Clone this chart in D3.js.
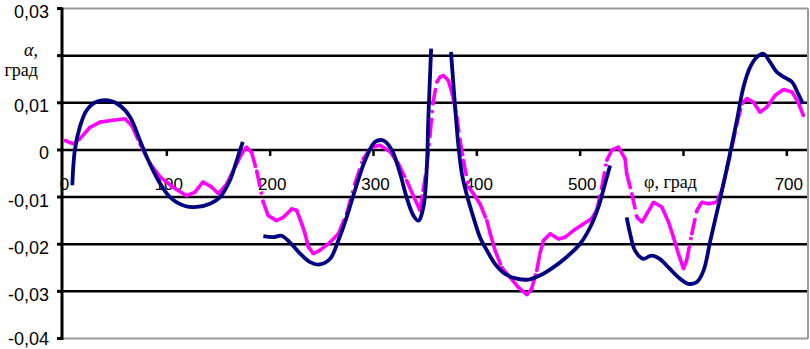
<!DOCTYPE html>
<html><head><meta charset="utf-8">
<script src="https://cdn.jsdelivr.net/npm/d3@7"></script>
<style>body{margin:0;background:#fff}svg{display:block}</style>
</head><body><svg id="c" width="810" height="349"></svg>
<script>
// Blue series (null = gap)
const phiBlue = [8.5,11,16,22.4,32,43.4,54.7,64.4,74,82,91.8,103,117.6,129,141.8,151.5,161,167.7,173.5,184,
193.4,203,211,219,229,238.6,248,258,266,274,282,291.9,301.5,309.6,317.7,325.7,332,338.6,343.5,348.3,351.6,353,354.8,355.8,365,
375,379,382,385.5,390,396.7,403,409.7,417.7,427.4,438.7,450,461.3,474,487,500,509.7,517.7,524,529,537,
545,548.4,553,561,569,577,585.5,595,604.8,613,619.4,626,632,638.7,645,651.7,658,664.6,671,677.4,683.8,690.4,696.8,705,711,715.6];
const valBlue = [-0.0075,0,0.005,0.0084,0.0102,0.0105,0.0094,0.007,0.002,-0.0022,-0.0065,-0.010,-0.0119,-0.0121,-0.0114,-0.010,-0.0065,-0.0022,0.0017,null,
-0.0183,-0.0185,-0.0182,-0.0196,-0.022,-0.0238,-0.0243,-0.0231,-0.0192,-0.0143,-0.0086,-0.0022,0.0017,0.002,0.0,-0.005,-0.010,-0.0139,-0.015,-0.0121,-0.0036,0.0063,0.0162,0.0215,null,
0.0208,0.0091,0.0013,-0.005,-0.0093,-0.0143,-0.0185,-0.0213,-0.0242,-0.0263,-0.0273,-0.0275,-0.0266,-0.0249,-0.0227,-0.0199,-0.0164,-0.0121,-0.0072,-0.0033,null,
-0.0143,-0.0178,-0.0213,-0.0231,-0.0224,-0.0231,-0.0249,-0.027,-0.0284,-0.028,-0.0256,-0.0192,-0.0135,-0.0072,-0.0008,0.0063,0.0133,0.0176,0.0197,0.0204,0.0186,0.0165,0.0155,0.0144,0.0119,0.0098];

// Magenta series
const phiMag = [1.5,9.5,16,25.7,35.3,48,59.5,66,74,83.7,93.4,106,119,127,135,143.5,150,158,166,172.5,177,182,187,
193.4,198,206,212.8,221,225.7,230.6,233.8,237,241.8,248,258,266,274,282,290,298.3,306.4,316,324,332,338.6,
345,348,351.6,354.8,357.4,361.3,364.5,367.7,372.5,377,380.6,383.8,387,392,396.7,403,409.7,413,417.7,424,432,440,448.4,453,458,461,464.5,471,479,485.5,493.5,503,511,516,521,525.8,530.7,537,543.5,
545,550,555,559.8,564.6,571,579,585.5,590.3,595,600,603,608,613,617.8,624,632,637,642,646.8,651.7,656.5,661.4,667.8,674,680.7,688.8,696.8,705,711,716];
const valMag = [0.002,0.0013,0.0024,0.0048,0.0059,0.0063,0.0066,0.0052,0.0013,-0.0029,-0.0057,-0.0079,-0.0097,-0.009,-0.0068,-0.0079,-0.0093,-0.0072,-0.0036,-0.0008,0.0006,-0.0005,-0.0045,
-0.0111,-0.0139,-0.015,-0.0143,-0.0125,-0.0128,-0.0157,-0.0178,-0.0206,-0.022,-0.0213,-0.0196,-0.0178,-0.0135,-0.0072,-0.0019,0.0006,0.001,-0.0004,-0.0029,-0.0065,-0.0097,
-0.0128,-0.0086,-0.0036,0.0034,0.0098,0.0144,0.0155,0.0158,0.0147,0.0112,0.007,0.002,-0.0022,-0.0079,-0.0093,-0.0114,-0.015,-0.0178,-0.0213,-0.0249,-0.027,-0.0291,-0.0307,-0.0295,-0.0256,-0.022,-0.0192,-0.0178,-0.0189,-0.0185,-0.0171,-0.0157,-0.0146,-0.0128,-0.0079,-0.0022,0.0,0.0006,-0.0019,
-0.005,-0.0093,-0.0143,-0.0153,-0.0135,-0.0111,-0.0121,-0.0153,-0.0185,-0.022,-0.0252,-0.0235,-0.0178,-0.0128,-0.0111,-0.0114,-0.0111,-0.0086,-0.004,0.0006,0.0056,0.0098,0.0109,0.0101,0.008,0.0091,0.0116,0.0128,0.0123,0.0101,0.0073];

const yTicks = [0.03,0.02,0.01,0,-0.01,-0.02,-0.03,-0.04];
const yTickLabels = ["0,03","","0,01","0","-0,01","-0,02","-0,03","-0,04"];
const xTicks = [0,100,200,300,400,500,600,700];
const xTickLabels = ["0","100","200","300","400","500","","700"];

const svg = d3.select("#c");
const x = d3.scaleLinear().domain([0,720]).range([63.5,807.5]);
const y = d3.scaleLinear().domain([-0.04,0.03]).range([338.5,8.5]);
const x0 = x(0)-1.5, x1 = 808;

// gridlines
svg.append("g").selectAll("line").data(yTicks).join("line")
  .attr("x1",x0).attr("x2",x1).attr("y1",d=>y(d)).attr("y2",d=>y(d))
  .attr("stroke",d=>(d===0.03||d===-0.04)?"#9a9a9a":"#000")
  .attr("stroke-width",d=>(d===0.03||d===-0.04)?2:2.5);
// right border
svg.append("line").attr("x1",x1).attr("x2",x1).attr("y1",y(0.03)).attr("y2",y(-0.04))
  .attr("stroke","#9a9a9a").attr("stroke-width",2);

// x ticks
svg.append("g").selectAll("line").data(xTicks.slice(1)).join("line")
  .attr("x1",d=>x(d)).attr("x2",d=>x(d)).attr("y1",y(0)).attr("y2",y(0)+6)
  .attr("stroke","#000").attr("stroke-width",2.5);
svg.append("g").selectAll("text").data(xTicks).join("text")
  .attr("x",(d,i)=>x(d)+(i===0?1:2)).attr("y",y(0)+40)
  .attr("text-anchor","middle").attr("font-family","Liberation Sans, Arial, sans-serif")
  .attr("font-size",17).attr("fill","#000").text((d,i)=>xTickLabels[i]);

// y axis
svg.append("line").attr("x1",x0).attr("x2",x0).attr("y1",y(0.03)-1).attr("y2",y(-0.04)+1.5)
  .attr("stroke","#000").attr("stroke-width",3);
svg.append("g").selectAll("line").data(yTicks).join("line")
  .attr("x1",x0-5).attr("x2",x0).attr("y1",d=>y(d)).attr("y2",d=>y(d))
  .attr("stroke","#000").attr("stroke-width",3);
svg.append("g").selectAll("text").data(yTicks).join("text")
  .attr("x",49).attr("y",d=>Math.min(y(d)+9.5,344.5))
  .attr("text-anchor","end").attr("font-family","Liberation Sans, Arial, sans-serif")
  .attr("font-size",18).attr("fill","#000").text((d,i)=>yTickLabels[i]);

// series
const blue = phiBlue.map((p,i)=>({p, v: valBlue[i]}));
const mag = phiMag.map((p,i)=>({p, v: valMag[i]}));
const line = d3.line().defined(d=>d.v!==null).x(d=>x(d.p)).y(d=>y(d.v));
const smooth = d3.line().defined(d=>d.v!==null).x(d=>x(d.p)).y(d=>y(d.v)).curve(d3.curveCatmullRom.alpha(0.5));

// magenta: dash pattern restarts at every segment (long dash - dot)
const magSegs = d3.pairs(mag);
svg.append("g").selectAll("path").data(magSegs).join("path")
  .attr("d",d=>line(d)).attr("fill","none").attr("stroke","#ff00ff")
  .attr("stroke-width",3.6).attr("stroke-dasharray","16,5,3,5");
svg.append("g").selectAll("circle").data(mag).join("circle")
  .attr("cx",d=>x(d.p)).attr("cy",d=>y(d.v)).attr("r",1.8).attr("fill","#ff00ff");

svg.append("path").datum(blue).attr("d",smooth).attr("fill","none")
  .attr("stroke","#000080").attr("stroke-width",3.8).attr("stroke-linejoin","round");

// axis titles
const serif = "Liberation Serif, Times New Roman, serif";
svg.append("text").attr("x",38).attr("y",56).attr("text-anchor","end")
  .attr("font-family",serif).attr("font-size",18).attr("fill","#000")
  .html('<tspan font-style="italic">α</tspan>,');
svg.append("text").attr("x",38).attr("y",76).attr("text-anchor","end")
  .attr("font-family",serif).attr("font-size",18).attr("fill","#000").text("град");
svg.append("text").attr("x",644).attr("y",188)
  .attr("font-family",serif).attr("font-size",18).attr("fill","#000").text("φ, град");
</script></body></html>
